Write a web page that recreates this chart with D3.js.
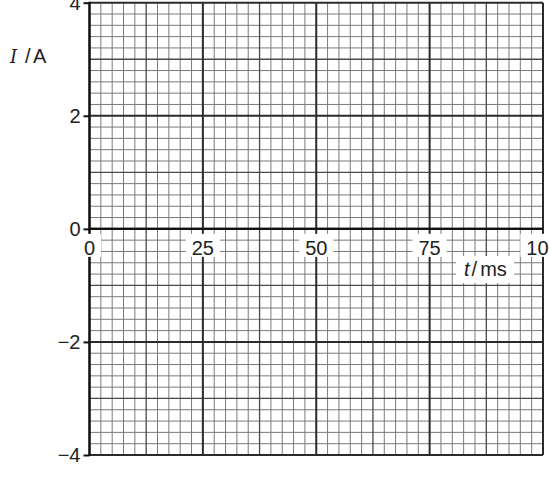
<!DOCTYPE html>
<html>
<head>
<meta charset="utf-8">
<script src="https://cdn.jsdelivr.net/npm/d3@7"></script>
<style>
  html, body { margin: 0; padding: 0; background: #fff; overflow: hidden; }
  text { font-family: "Liberation Sans", Arial, sans-serif; fill: #222; }
</style>
</head>
<body>
<svg id="chart"></svg>
<script>
// axis values
const xTicks = [0, 25, 50, 75, 100];
const yTicks = [4, 2, 0, -2, -4];
const xDomain = [0, 100];
const yDomain = [-4, 4];
const xMinorCount = 40;   // 2.5 ms per small square
const yMinorCount = 40;   // 0.2 A per small square

const W = 549, H = 489;
const svg = d3.select("#chart").attr("width", W).attr("height", H);

const x = d3.scaleLinear().domain(xDomain).range([89.5, 543]);
const y = d3.scaleLinear().domain(yDomain).range([455, 2.7]);

const fmt = d => (d < 0 ? "\u2212" + Math.abs(d) : String(d));

// grid lines
const xLines = d3.range(xMinorCount + 1).map(i => xDomain[0] + i * (xDomain[1] - xDomain[0]) / xMinorCount);
const yLines = d3.range(yMinorCount + 1).map(i => yDomain[0] + i * (yDomain[1] - yDomain[0]) / yMinorCount);

function xKind(v) {
  if (Math.abs(v % 25) < 1e-6) return "major";
  if (Math.abs(v % 12.5) < 1e-6) return "mid";
  return "minor";
}
function yKind(v) {
  const r = Math.round(v * 1000) / 1000;
  if (Number.isInteger(r) && r % 2 === 0) return "major";
  if (Number.isInteger(r)) return "mid";
  return "minor";
}
const styles = {
  minor: { stroke: "#7a7a7a", w: 1 },
  mid: { stroke: "#4a4a4a", w: 1.3 },
  major: { stroke: "#2a2a2a", w: 2 }
};

const grid = svg.append("g");
["minor", "mid", "major"].forEach(kind => {
  grid.append("g").selectAll("line")
    .data(xLines.filter(v => xKind(v) === kind))
    .enter().append("line")
    .attr("x1", d => x(d)).attr("x2", d => x(d))
    .attr("y1", y(yDomain[1])).attr("y2", y(yDomain[0]))
    .style("stroke", styles[kind].stroke)
    .style("stroke-width", styles[kind].w);
  grid.append("g").selectAll("line")
    .data(yLines.filter(v => yKind(v) === kind))
    .enter().append("line")
    .attr("x1", x(xDomain[0])).attr("x2", x(xDomain[1]))
    .attr("y1", d => y(d)).attr("y2", d => y(d))
    .style("stroke", styles[kind].stroke)
    .style("stroke-width", styles[kind].w);
});

// axes lines (t = 0 and I = 0)
svg.append("line")
  .attr("x1", x(0)).attr("x2", x(0))
  .attr("y1", y(yDomain[1]) - 1).attr("y2", y(yDomain[0]) + 1)
  .style("stroke", "#111").style("stroke-width", 2.2);
svg.append("line")
  .attr("x1", x(xDomain[0])).attr("x2", x(xDomain[1]))
  .attr("y1", y(0)).attr("y2", y(0))
  .style("stroke", "#111").style("stroke-width", 2.2);

// y axis ticks and labels
const yAxis = svg.append("g")
  .attr("transform", `translate(${x(0)},0)`)
  .call(d3.axisLeft(y).tickValues(yTicks).tickSize(6).tickPadding(3).tickFormat(fmt));
yAxis.select(".domain").remove();
yAxis.selectAll(".tick line").style("stroke", "#111").style("stroke-width", 2);
yAxis.selectAll(".tick text")
  .style("font-size", "20px")
  .style("font-family", '"Liberation Sans", Arial, sans-serif')
  .style("fill", "#222");

// x tick labels on white boxes below the t axis
const xLab = svg.append("g").selectAll("g")
  .data(xTicks)
  .enter().append("g")
  .attr("transform", d => `translate(${x(d)},0)`);
xLab.append("rect")
  .attr("x", d => -(String(d).length * 11.1) / 2 - 6)
  .attr("y", y(0) + 5)
  .attr("width", d => String(d).length * 11.1 + 12)
  .attr("height", 23)
  .style("fill", "#fff");
xLab.append("text")
  .attr("y", y(0) + 26)
  .style("font-size", "20px")
  .style("text-anchor", "middle")
  .text(d => fmt(d));

// axis titles
svg.append("rect")
  .attr("x", 456).attr("y", 256)
  .attr("width", 58).attr("height", 27)
  .style("fill", "#fff");
const tTitle = svg.append("text")
  .attr("x", 464).attr("y", 276)
  .style("font-size", "20px");
tTitle.append("tspan").style("font-style", "italic").text("t");
tTitle.append("tspan").attr("dx", 2).text("/");
tTitle.append("tspan").attr("dx", 3).text("ms");

const iTitle = svg.append("text")
  .attr("y", 63)
  .style("font-size", "20px");
iTitle.append("tspan").attr("x", 10)
  .style("font-family", '"DejaVu Serif", "Liberation Serif", serif')
  .style("font-style", "italic").style("font-size", "18px").text("I");
iTitle.append("tspan").attr("x", 25).text("/");
iTitle.append("tspan").attr("x", 33).text("A");
</script>
</body>
</html>
